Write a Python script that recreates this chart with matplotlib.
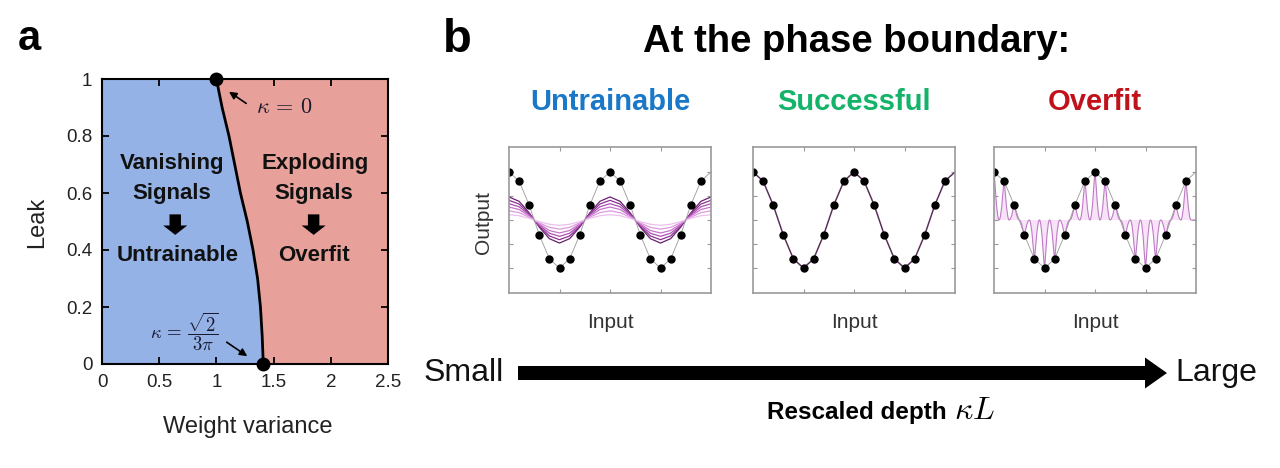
import numpy as np
import matplotlib
matplotlib.use('Agg')
import matplotlib.pyplot as plt
from matplotlib.patches import FancyArrow, PathPatch
from matplotlib.path import Path

plt.rcParams['font.family'] = ['Liberation Sans', 'DejaVu Sans']
plt.rcParams['mathtext.fontset'] = 'cm'

# ---- panel a: phase diagram ----
leak = [0.0, 0.1, 0.2, 0.3, 0.4, 0.5, 0.6, 0.7, 0.8, 0.9, 1.0]
weight_crit = [1.41, 1.40, 1.385, 1.36, 1.32, 1.27, 1.21, 1.16, 1.11, 1.05, 1.00]
end_x = [1.0, 1.41]
end_y = [1.0, 0.0]
xticks_a = [0, 0.5, 1, 1.5, 2, 2.5]
xlabels_a = ['0', '0.5', '1', '1.5', '2', '2.5']
yticks_a = [0, 0.2, 0.4, 0.6, 0.8, 1]
ylabels_a = ['0', '0.2', '0.4', '0.6', '0.8', '1']

# ---- panel b: fits ----
input_pos = np.arange(21)
target = [1.0, 0.81, 0.31, -0.31, -0.81, -1.0, -0.81, -0.31, 0.31, 0.81,
          1.0, 0.81, 0.31, -0.31, -0.81, -1.0, -0.81, -0.31, 0.31, 0.81, 1.0]
n_train = 20
untrain_amps = [0.48, 0.41, 0.34, 0.27, 0.19, 0.11]
untrain_colors = ['#6a1f6e', '#8a3290', '#ad4fb3', '#c772cc', '#dd9ae0', '#ecc0ee']
titles_b = ['Untrainable', 'Successful', 'Overfit']
title_colors = ['#1a78c8', '#14b36a', '#c0121a']

W, H = 1280, 468
fig = plt.figure(figsize=(W / 100, H / 100), dpi=100)


def ftext(x, y, s, **kw):
    return fig.text(x / W, 1 - y / H, s, **kw)


axa = fig.add_axes([102 / W, 104 / H, 286 / W, 285 / H])
axa.fill_betweenx(leak, 0, weight_crit, color='#94b2e6', lw=0)
axa.fill_betweenx(leak, weight_crit, 2.5, color='#e8a19a', lw=0)
axa.plot(weight_crit, leak, color='k', lw=2)
axa.plot(end_x, end_y, 'o', color='k', ms=9, clip_on=False, zorder=5)
axa.set_xlim(0, 2.5)
axa.set_ylim(0, 1)
axa.set_xticks(xticks_a, xlabels_a)
axa.set_yticks(yticks_a, ylabels_a)
axa.tick_params(direction='in', top=True, right=True, length=5, width=1.3,
                labelsize=13.5, pad=7, labelcolor='#222')
for sp in axa.spines.values():
    sp.set_linewidth(1.5)

ftext(37, 222, 'Leak', rotation=90, ha='center', va='center', fontsize=17, color='#222')
ftext(248, 427, 'Weight variance', ha='center', va='center', fontsize=17, color='#222')
ftext(29, 50, 'a', ha='center', va='baseline', fontsize=30, fontweight='bold')

bold = dict(ha='center', va='center', fontsize=16, fontweight='bold', color='#111')
axa.text(0.61, 0.705, 'Vanishing', **bold)
axa.text(0.61, 0.60, 'Signals', **bold)
axa.text(0.66, 0.38, 'Untrainable', **bold)
axa.text(1.86, 0.705, 'Exploding', **bold)
axa.text(1.85, 0.60, 'Signals', **bold)
axa.text(1.85, 0.38, 'Overfit', **bold)
for xc in [0.64, 1.85]:
    axa.add_patch(FancyArrow(xc, 0.525, 0, -0.072, width=0.1, head_width=0.21,
                             head_length=0.033, length_includes_head=True,
                             color='k', lw=0))

axa.annotate('', xy=(1.09, 0.961), xytext=(1.28, 0.909),
             arrowprops=dict(arrowstyle='-|>', color='k', lw=1.2, mutation_scale=11))
axa.text(1.59, 0.90, r'$\kappa\,=\,0$', ha='center', va='center', fontsize=16,
         color='#1a1a2e')
axa.annotate('', xy=(1.29, 0.022), xytext=(1.07, 0.082),
             arrowprops=dict(arrowstyle='-|>', color='k', lw=1.2, mutation_scale=11))
axa.text(0.72, 0.113, r'$\kappa\,=\,\dfrac{\sqrt{2}}{3\pi}$', ha='center', va='center',
         fontsize=13.5, color='#1a1a2e')

# ---- panel b ----
ftext(457, 52, 'b', ha='center', va='baseline', fontsize=34, fontweight='bold')
ftext(857, 52, 'At the phase boundary:', ha='center', va='baseline', fontsize=27.5,
      fontweight='bold')

lefts = [509, 753, 994]
axs = []
for i, lx in enumerate(lefts):
    ax = fig.add_axes([lx / W, 175 / H, 202 / W, 146 / H])
    ax.set_xlim(0, 20)
    ax.set_ylim(-1.52, 1.52)
    ax.set_xticks([5, 10, 15])
    ax.set_yticks([-1, -0.5, 0, 0.5, 1])
    ax.tick_params(direction='in', top=True, right=True, length=3, width=0.8,
                   color='#999', labelbottom=False, labelleft=False)
    for sp in ax.spines.values():
        sp.set_color('#999')
        sp.set_linewidth(1.2)
    ftext(lx + 101, 110, titles_b[i], ha='center', va='baseline', fontsize=21,
          fontweight='bold', color=title_colors[i])
    ftext(lx + 101, 323, 'Input', ha='center', va='center', fontsize=15, color='#333')
    axs.append(ax)

ftext(484, 222, 'Output', rotation=90, ha='center', va='center', fontsize=15, color='#333')

# untrainable: shrunken fits
ax = axs[0]
for amp, c in zip(untrain_amps, untrain_colors):
    ax.plot(input_pos, np.array(target) * amp, color=c, lw=0.9)
ax.plot(input_pos, target, color='#999', lw=0.6)
ax.plot(input_pos[:n_train], target[:n_train], 'o', color='k', ms=5)

# successful
ax = axs[1]
ax.plot(input_pos, target, color='#c070c0', lw=1.2)
ax.plot(input_pos, target, color='#333', lw=0.7)
ax.plot(input_pos[:n_train], target[:n_train], 'o', color='k', ms=5)

# overfit: narrow bumps at each training point
ax = axs[2]
verts = [(input_pos[0] - 0.5, 0)]
codes = [Path.MOVETO]
for xi, yi in zip(input_pos[:n_train], target[:n_train]):
    verts += [(xi - 0.26, 0), (xi - 0.05, yi), (xi, yi),
              (xi + 0.05, yi), (xi + 0.26, 0), (xi + 0.5, 0)]
    codes += [Path.CURVE4] * 6
verts.append((input_pos[-1], 0))
codes.append(Path.LINETO)
ax.add_patch(PathPatch(Path(verts, codes), facecolor='#f7dff7', edgecolor='#b86fc0',
                       lw=0.8, alpha=0.9))
ax.plot(input_pos, target, color='#999', lw=0.6)
ax.plot(input_pos[:n_train], target[:n_train], 'o', color='k', ms=5)

# bottom depth arrow
fig.add_artist(FancyArrow(518 / W, 1 - 373 / H, (1167 - 518) / W, 0, width=14 / H,
                          head_width=31 / H, head_length=22 / W,
                          length_includes_head=True, color='k', lw=0,
                          transform=fig.transFigure))
ftext(464, 373, 'Small', ha='center', va='center', fontsize=23, color='#111')
ftext(1216, 373, 'Large', ha='center', va='center', fontsize=23, color='#111')
ftext(947, 419, 'Rescaled depth', ha='right', va='baseline', fontsize=17.5,
      fontweight='bold')
ftext(954, 419, r'$\kappa L$', ha='left', va='baseline', fontsize=23)

fig.savefig('out.png', dpi=100)
